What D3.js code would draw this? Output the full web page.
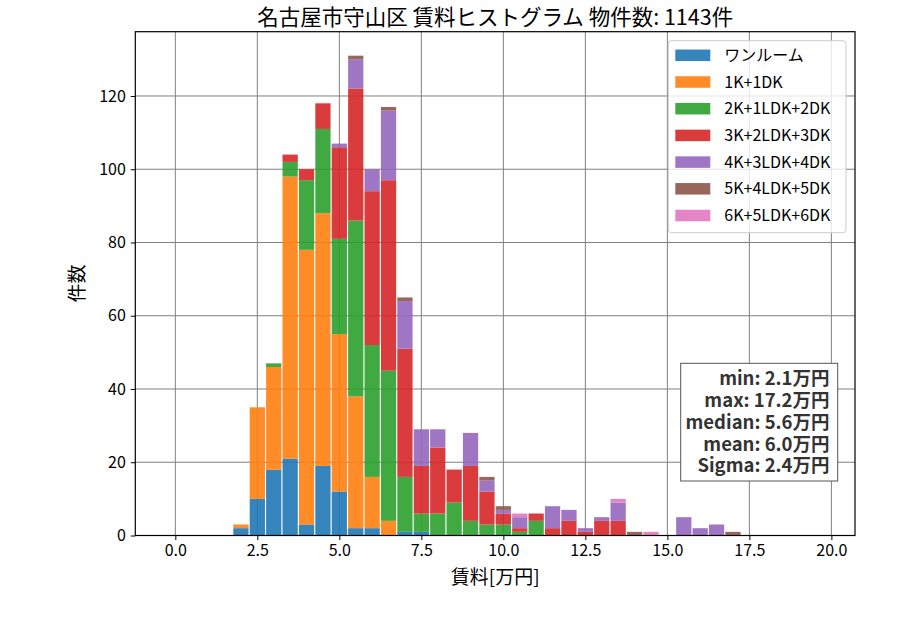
<!DOCTYPE html>
<html>
<head>
<meta charset="utf-8">
<script src="https://cdn.jsdelivr.net/npm/d3@7"></script>
<style>
  body { margin: 0; background: #fff; }
  svg text { font-family: "Noto Sans CJK JP", "Noto Sans", sans-serif; }
</style>
</head>
<body>
<div id="chart"></div>
<script>
// bin centres (万円), bin width 0.5
var bins = [2.0, 2.5, 3.0, 3.5, 4.0, 4.5, 5.0, 5.5, 6.0, 6.5, 7.0, 7.5, 8.0, 8.5, 9.0, 9.5,
            10.0, 10.5, 11.0, 11.5, 12.0, 12.5, 13.0, 13.5, 14.0, 14.5, 15.0, 15.5, 16.0, 16.5, 17.0];
var binWidth = 0.5;

var categories = ["ワンルーム", "1K+1DK", "2K+1LDK+2DK", "3K+2LDK+3DK", "4K+3LDK+4DK", "5K+4LDK+5DK", "6K+5LDK+6DK"];
var oneRoom = [2, 10, 18, 21, 3, 19, 12, 2, 2, 0, 1, 1, 0, 0, 0, 0, 0, 0, 0, 0, 0, 0, 0, 0, 0, 0, 0, 0, 0, 0, 0];
var k1      = [1, 25, 28, 77, 75, 69, 43, 36, 14, 4, 0, 0, 0, 0, 0, 0, 0, 0, 0, 0, 0, 0, 0, 0, 0, 0, 0, 0, 0, 0, 0];
var k2      = [0, 0, 1, 4, 19, 23, 26, 48, 36, 41, 15, 5, 6, 9, 4, 3, 3, 1, 4, 0, 0, 0, 0, 0, 0, 0, 0, 0, 0, 0, 0];
var k3      = [0, 0, 0, 2, 3, 7, 25, 36, 42, 52, 35, 13, 18, 9, 15, 9, 3, 1, 2, 2, 4, 1, 4, 4, 0, 0, 0, 0, 0, 0, 0];
var k4      = [0, 0, 0, 0, 0, 0, 1, 8, 6, 19, 13, 10, 5, 0, 9, 3, 1, 3, 0, 6, 3, 1, 1, 5, 0, 0, 0, 5, 2, 3, 0];
var k5      = [0, 0, 0, 0, 0, 0, 0, 1, 0, 1, 1, 0, 0, 0, 0, 1, 1, 0, 0, 0, 0, 0, 0, 0, 1, 0, 0, 0, 0, 0, 1];
var k6      = [0, 0, 0, 0, 0, 0, 0, 0, 0, 0, 0, 0, 0, 0, 0, 0, 0, 1, 0, 0, 0, 0, 0, 1, 0, 1, 0, 0, 0, 0, 0];
var series = [oneRoom, k1, k2, k3, k4, k5, k6];
var colors = ["#1f77b4", "#ff7f0e", "#2ca02c", "#d62728", "#9467bd", "#8c564b", "#e377c2"];

var xTicks = [0, 2.5, 5, 7.5, 10, 12.5, 15, 17.5, 20];
var yTicks = [0, 20, 40, 60, 80, 100, 120];
var stats = ["min: 2.1万円", "max: 17.2万円", "median: 5.6万円", "mean: 6.0万円", "Sigma: 2.4万円"];
var title = "名古屋市守山区 賃料ヒストグラム  物件数: 1143件";

var width = 900, height = 630;
var margin = {top: 31.7, right: 45, bottom: 94.5, left: 135.3};
var plotW = width - margin.left - margin.right;
var plotH = height - margin.top - margin.bottom;

var svg = d3.select("#chart").append("svg")
    .attr("width", width)
    .attr("height", height);

var x = d3.scaleLinear().domain([-1.22, 20.72]).range([0, plotW]);
var y = d3.scaleLinear().domain([0, 137.55]).range([plotH, 0]);

var g = svg.append("g").attr("transform", "translate(" + margin.left + "," + margin.top + ")");

// grid
g.append("g").selectAll("line").data(xTicks).enter().append("line")
    .attr("x1", function(d){ return x(d); }).attr("x2", function(d){ return x(d); })
    .attr("y1", 0).attr("y2", plotH)
    .attr("stroke", "#808080").attr("stroke-width", 1);
g.append("g").selectAll("line").data(yTicks).enter().append("line")
    .attr("x1", 0).attr("x2", plotW)
    .attr("y1", function(d){ return y(d); }).attr("y2", function(d){ return y(d); })
    .attr("stroke", "#808080").attr("stroke-width", 1);

// stacked bars
var rows = bins.map(function(b, i){
  var r = {bin: b};
  categories.forEach(function(c, j){ r[c] = series[j][i]; });
  return r;
});
var stack = d3.stack().keys(categories)(rows);
var bw = binWidth * 0.93;

g.append("g").selectAll("g").data(stack).enter().append("g")
    .attr("fill", function(d, i){ return colors[i]; })
    .attr("fill-opacity", 0.9)
  .selectAll("rect").data(function(d){ return d.filter(function(p){ return p[1] > p[0]; }); })
  .enter().append("rect")
    .attr("x", function(d){ return x(d.data.bin - bw / 2); })
    .attr("width", function(d){ return x(bw) - x(0); })
    .attr("y", function(d){ return y(d[1]); })
    .attr("height", function(d){ return y(d[0]) - y(d[1]); });

// axes
var xAxis = g.append("g").attr("transform", "translate(0," + plotH + ")")
    .call(d3.axisBottom(x).tickValues(xTicks).tickFormat(d3.format(".1f")).tickSizeOuter(0).tickSize(4.5).tickPadding(5));
var yAxis = g.append("g")
    .call(d3.axisLeft(y).tickValues(yTicks).tickSizeOuter(0).tickSize(4.5).tickPadding(5));
[xAxis, yAxis].forEach(function(a){
  a.select(".domain").remove();
  a.selectAll("text").attr("font-size", 16).attr("fill", "#000")
    .style("font-family", "'Noto Sans CJK JP', sans-serif");
  a.selectAll("line").attr("stroke", "#000");
});

// frame
g.append("rect").attr("width", plotW).attr("height", plotH)
    .attr("fill", "none").attr("stroke", "#000").attr("stroke-width", 1.2);

// legend
var legend = g.append("g").attr("transform", "translate(" + (668.3 - margin.left) + "," + (40.7 - margin.top) + ")");
legend.append("rect").attr("width", 177.7).attr("height", 192)
    .attr("rx", 3).attr("fill", "#fff").attr("fill-opacity", 0.8)
    .attr("stroke", "#cccccc");
var item = legend.selectAll("g.item").data(categories).enter().append("g")
    .attr("transform", function(d, i){ return "translate(7," + (14.6 + i * 26.7) + ")"; });
item.append("rect").attr("width", 35).attr("height", 11.5).attr("y", -5.75)
    .attr("fill", function(d, i){ return colors[i]; }).attr("fill-opacity", 0.9);
item.append("text").attr("x", 49).attr("dy", "0.35em")
    .attr("font-size", 16).text(function(d){ return d; });

// stats box (one multi-line text block)
var sb = svg.append("g");
sb.append("rect").attr("x", 680.7).attr("y", 363.3).attr("width", 157).attr("height", 117.7)
    .attr("fill", "#fff").attr("stroke", "#555").attr("stroke-width", 1);
sb.append("text")
    .attr("text-anchor", "end").attr("font-size", 18.5).attr("font-weight", "bold")
    .attr("fill", "#333")
  .selectAll("tspan").data(stats).enter().append("tspan")
    .attr("x", 829.5).attr("y", function(d, i){ return 384.8 + i * 21.9; })
    .text(function(d){ return d; });

// titles
svg.append("text").attr("x", margin.left + plotW / 2).attr("y", 24.5)
    .attr("text-anchor", "middle").attr("font-size", 21.5).text(title);
svg.append("text").attr("x", margin.left + plotW / 2).attr("y", 584)
    .attr("text-anchor", "middle").attr("font-size", 19).text("賃料[万円]");
svg.append("text").attr("transform", "translate(84," + (margin.top + plotH / 2) + ") rotate(-90)")
    .attr("text-anchor", "middle").attr("font-size", 19).text("件数");
</script>
</body>
</html>
